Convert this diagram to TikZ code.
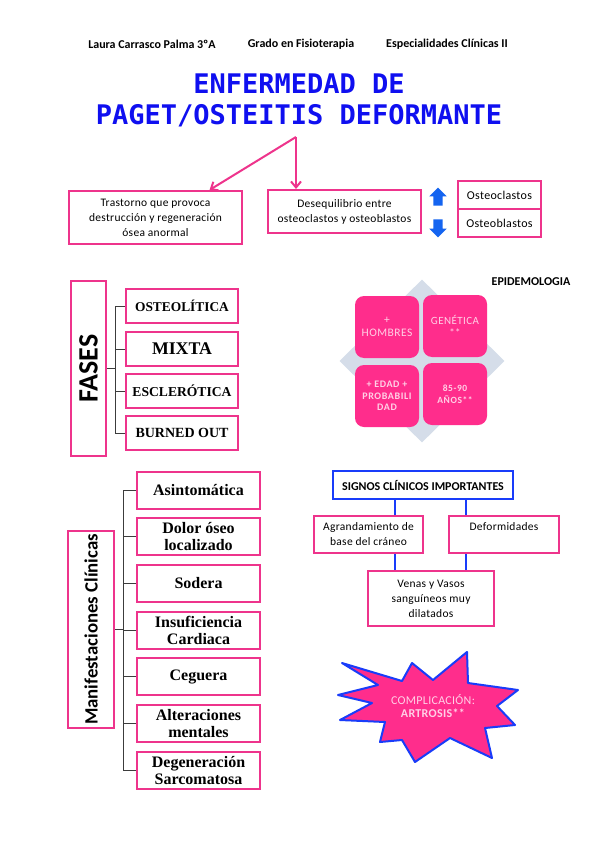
\documentclass[tikz,border=0pt]{standalone}
\usepackage{fontspec}
\setmainfont{Carlito}
\newfontfamily\serifb{Liberation Serif}
\newfontfamily\monob{DejaVu Sans Mono}
\newfontfamily\spaced[LetterSpace=4]{Carlito}
\newfontfamily\spacedb[LetterSpace=6]{Carlito}
\newfontfamily\bodyf[LetterSpace=2.5]{Carlito}
\usetikzlibrary{arrows.meta,shapes.arrows,shapes.geometric}
\definecolor{pinkc}{RGB}{238,52,140}
\definecolor{hotpink}{RGB}{255,45,140}
\definecolor{textpink}{RGB}{255,208,230}
\definecolor{bluec}{RGB}{25,60,250}
\definecolor{titleblue}{RGB}{15,15,240}
\definecolor{arrblue}{RGB}{20,100,240}
\definecolor{diamg}{RGB}{213,221,233}
\definecolor{treeg}{RGB}{60,60,60}
\newcommand\fsz[2]{\fontsize{#1}{#2}\selectfont}
\begin{document}
\begin{tikzpicture}[x=1pt,y=-1pt,
  pbox/.style={draw=pinkc,line width=2pt,fill=white,inner sep=0pt,align=center,anchor=north west},
  bbox/.style={draw=bluec,line width=2pt,fill=white,inner sep=0pt,align=center,anchor=north west},
  body/.style={font=\bodyf\fsz{11.5}{15}},
  epi/.style={fill=hotpink,rounded corners=9pt,minimum width=64pt,minimum height=62pt,inner sep=0pt,align=center,text=textpink},
  parrow/.style={draw=pinkc,line width=2pt,-{Straight Barb[length=6pt,width=10pt]}},
  tree/.style={draw=treeg,line width=1pt},
  bline/.style={draw=bluec,line width=2.2pt},
  fase/.style={pbox,minimum width=112pt,minimum height=34pt},
  manif/.style={pbox,minimum width=123pt,minimum height=37pt,font=\serifb\bfseries\fsz{16}{16.5}},
  uparr/.style={single arrow,fill=arrblue,minimum height=18pt,inner sep=4.5pt,single arrow head extend=4pt},
]
\useasboundingbox (0,0) rectangle (599,848);
\fill[white] (0,0) rectangle (599,848);

% header
\node[font=\bfseries\fsz{12}{13}] (h1) at (152,44) {Laura Carrasco Palma 3ºA};
\node[font=\bfseries\fsz{12}{13}] (h2) at (301,44) {Grado en Fisioterapia};
\node[font=\bfseries\fsz{12}{13}] (h3) at (447,44) {Especialidades Clínicas II};

% title
\node[text=titleblue,font=\monob\bfseries\fsz{27}{30}] (t1) at (299,84) {ENFERMEDAD DE};
\node[text=titleblue,font=\monob\bfseries\fsz{27}{30}] (t2) at (299,116) {PAGET/OSTEITIS DEFORMANTE};

% top boxes
\node[pbox,body,minimum width=173pt,minimum height=53pt] (b1) at (68,190)
  {Trastorno que provoca\\destrucción y regeneración\\ósea anormal};
\node[pbox,body,minimum width=153pt,minimum height=43pt] (b2) at (267,189)
  {Desequilibrio entre\\osteoclastos y osteoblastos};
\coordinate (tsplit) at (296,137);
\draw[parrow] (tsplit) -- ([xshift=54pt]b1.north);
\draw[parrow] (tsplit) -- (tsplit |- b2.north);

\node[uparr,shape border rotate=90] (up) at (438,199) {};
\node[uparr,shape border rotate=270] (down) at (438,226) {};
\node[pbox,font=\bodyf\fsz{12}{13},minimum width=83pt,minimum height=28pt] (oc) at (457,180) {Osteoclastos};
\node[pbox,font=\bodyf\fsz{12}{13},minimum width=83pt,minimum height=28pt] (ob) at (457,208) {Osteoblastos};

% FASES
\node[pbox,minimum width=35pt,minimum height=175pt] (fases) at (70,280)
  {\rotatebox{90}{\fsz{28}{30}\bfseries FASES}};
\node[fase,font=\serifb\bfseries\fsz{13.4}{15}] (f1) at (125,288) {OSTEOLÍTICA};
\node[fase,font=\serifb\bfseries\fsz{17.8}{19}] (f2) at (125,331) {MIXTA};
\node[fase,font=\serifb\bfseries\fsz{13.6}{15}] (f3) at (125,373) {ESCLERÓTICA};
\node[fase,font=\serifb\bfseries\fsz{14}{15}] (f4) at (125,415) {BURNED OUT};
\coordinate (fsp) at (115,0);
\draw[tree] (fases.east) -- (fases.east -| fsp);
\draw[tree] (f1.west -| fsp) -- (f4.west -| fsp);
\foreach \n in {f1,f2,f3,f4} \draw[tree] (\n.west) -- (\n.west -| fsp);

% Epidemiologia
\node[diamond,fill=diamg,minimum width=165pt,minimum height=163pt,inner sep=0pt] (dia) at (422,361) {};
\node[epi,font=\spaced\fsz{11.5}{12.5}] (e1) at (387,327) {+\\HOMBRES};
\node[epi,font=\spaced\fsz{11}{11.5}] (e2) at (455,326) {GENÉTICA\\**};
\node[epi,font=\spacedb\bfseries\fsz{10}{11.5}] (e3) at (387,396) {+ EDAD +\\PROBABILI\\DAD};
\node[epi,font=\spacedb\bfseries\fsz{9.5}{12}] (e4) at (455,394) {85-90\\AÑOS**};
\node[font=\bfseries\fsz{12}{13}] (epit) at (531,282) {EPIDEMOLOGIA};

% Manifestaciones
\node[pbox,minimum width=46pt,minimum height=197pt] (man) at (67,530)
  {\rotatebox{90}{\fsz{18.8}{20}\bfseries Manifestaciones Clínicas}};
\node[manif] (m1) at (136,471) {Asintomática};
\node[manif] (m2) at (136,517) {Dolor óseo\\localizado};
\node[manif] (m3) at (136,564) {Sodera};
\node[manif] (m4) at (136,611) {Insuficiencia\\Cardiaca};
\node[manif] (m5) at (136,657) {Ceguera};
\node[manif] (m6) at (136,704) {Alteraciones\\mentales};
\node[manif] (m7) at (136,751) {Degeneración\\Sarcomatosa};
\coordinate (msp) at (123,0);
\draw[tree] (man.east) -- (man.east -| msp);
\draw[tree] (m1.west -| msp) -- (m7.west -| msp);
\foreach \n in {m1,m2,m3,m4,m5,m6,m7} \draw[tree] (\n.west) -- (\n.west -| msp);

% Signos clinicos
\node[bbox,font=\bfseries\fsz{12}{13},minimum width=180pt,minimum height=28pt] (sig) at (332,470) {SIGNOS CLÍNICOS IMPORTANTES};
\node[pbox,body,minimum width=109pt,minimum height=37pt] (agr) at (313,515) {Agrandamiento de\\base del cráneo};
\node[pbox,body,minimum width=110pt,minimum height=37pt] (def) at (448,515) {Deformidades\\\mbox{}};
\node[pbox,body,minimum width=126pt,minimum height=55pt] (ven) at (367,570) {Venas y Vasos\\sanguíneos muy\\dilatados};
\coordinate (lx) at (395,0);
\coordinate (rx) at (466,0);
\draw[bline] (lx |- sig.south) -- (lx |- agr.north);
\draw[bline] (rx |- sig.south) -- (rx |- def.north);
\draw[bline] (lx |- agr.south) -- (lx |- ven.north);
\draw[bline] (rx |- def.south) -- (rx |- ven.north);

% Star
\draw[fill=hotpink,draw=bluec,line width=2pt,line join=round]
  (342,663) -- (402,681) -- (412,663) -- (433,680) -- (467,652) -- (468,683)
  -- (518,690) -- (497,706) -- (515,725) -- (485,728) -- (492,758) -- (450,738)
  -- (415,762) -- (402,740) -- (380,742) -- (385,722) -- (340,720) -- (372,703)
  -- (338,695) -- (378,685) -- cycle;
\node[text=textpink,align=center,font=\bodyf\fsz{12}{13.5}] (comp) at (433,706)
  {COMPLICACIÓN:\\\textbf{ARTROSIS**}};
\end{tikzpicture}
\end{document}
